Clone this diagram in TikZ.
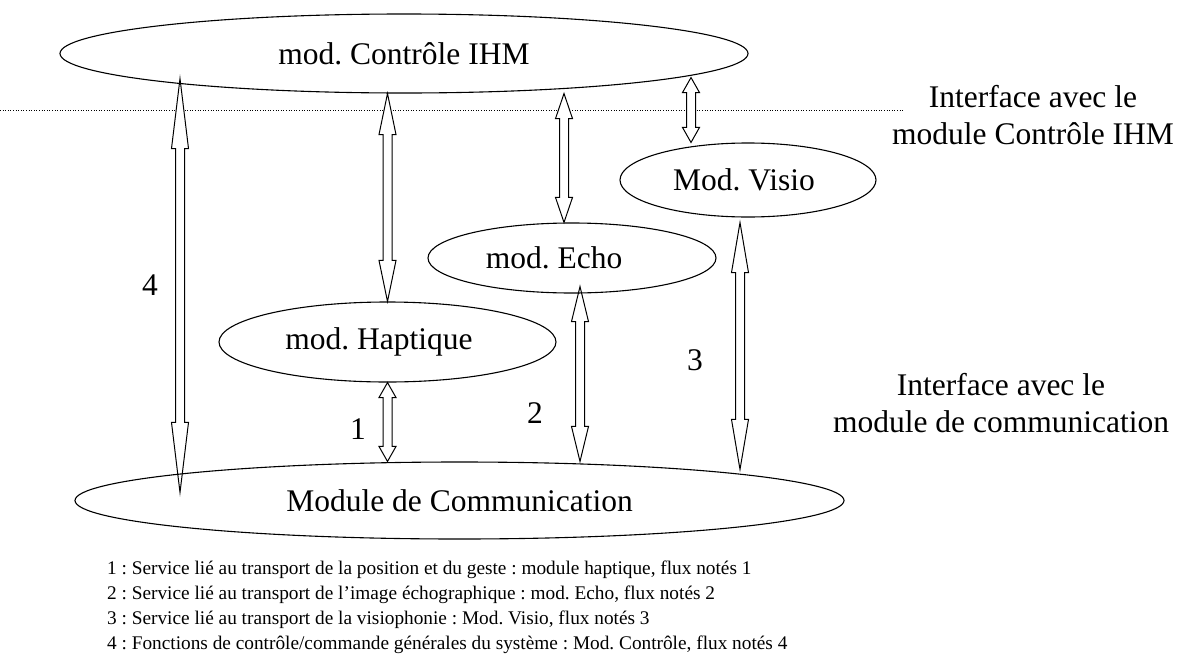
\documentclass[tikz,border=0pt]{standalone}
\usepackage{fontspec}
\setmainfont{Liberation Serif}
\frenchspacing
\usepackage{tikz}
\usetikzlibrary{shapes.geometric,calc,backgrounds}
\tikzset{
  ihmmod/.style={draw,ellipse,line width=1.1pt,inner sep=0pt,font=\fontsize{31.5}{37}\selectfont},
  ihmtxt/.style={align=center,inner sep=0pt,font=\fontsize{31.5}{37}\selectfont},
  ihmnote/.style={align=left,inner sep=0pt,font=\fontsize{19.3}{25}\selectfont},
  ihmsep/.style={line width=0.8pt,dash pattern=on 1pt off 1.6pt},
  ihmflow/.style={draw,fill=white,line width=1pt,line join=miter,
    to path={let \p1=(\tikztostart),\p2=(\tikztotarget) in
      -- (\x1+8.5pt,\y1-#1) -- (\x1+4.5pt,\y1-#1) -- (\x2+4.5pt,\y2+#1) -- (\x2+8.5pt,\y2+#1) -- (\x2,\y2)
      -- (\x2-8.5pt,\y2+#1) -- (\x2-4.5pt,\y2+#1) -- (\x1-4.5pt,\y1-#1) -- (\x1-8.5pt,\y1-#1) -- cycle}},
}
\begin{document}
\begin{tikzpicture}[x=1pt,y=1pt]
\useasboundingbox (0,0) rectangle (1184,-659);
% modules
\node[ihmmod,minimum width=688pt,minimum height=79pt] (ctrl) at (404,-53.5) {mod. Contrôle IHM};
\node[ihmmod,minimum width=256pt,minimum height=74pt] (visio) at (748,-180) {Mod. Visio\hspace*{8pt}};
\node[ihmmod,minimum width=288pt,minimum height=70pt] (echo) at (572,-258) {mod. Echo\hspace*{36pt}};
\node[ihmmod,minimum width=337pt,minimum height=80pt] (hapt) at (387.5,-342) {mod. Haptique\hspace*{17pt}};
\node[ihmmod,minimum width=769pt,minimum height=77pt] (comm) at (459.5,-500.5) {Module de Communication};
% interfaces
\node[ihmtxt] (ifctrl) at (1033,-115) {Interface avec le\\module Contrôle IHM};
\node[ihmtxt] (ifcomm) at (1001,-403) {Interface avec le\\module de communication};
% flow numbers
\node[ihmtxt] (n4) at (150,-285) {4};
\node[ihmtxt] (n1) at (358,-429) {1};
\node[ihmtxt] (n2) at (535,-413) {2};
\node[ihmtxt] (n3) at (695,-360) {3};
% legend
\node[ihmnote,anchor=north west] (legend) at (107,-561) {1 : Service lié au transport de la position et du geste : module haptique, flux notés 1\\
2 : Service lié au transport de l’image échographique : mod. Echo, flux notés 2\\
3 : Service lié au transport de la visiophonie : Mod. Visio, flux notés 3\\
4 : Fonctions de contrôle/commande générales du système : Mod. Contrôle, flux notés 4};
\begin{scope}[on background layer]
\draw[ihmsep] (0,-110) -- (904,-110);
\draw[ihmflow=70pt] ($(ctrl.south -| 180,0)+(0,15)$) to ($(comm.north -| 180,0)+(0,-31)$);
\draw[ihmflow=41pt] (ctrl.south -| hapt.north) to (hapt.north);
\draw[ihmflow=25pt] (ctrl.south -| 564,0) to (echo.north -| 564,0);
\draw[ihmflow=15pt] ($(ctrl.south -| 691,0)+(0,16)$) to (visio.north -| 691,0);
\draw[ihmflow=15pt] (hapt.south) to (comm.north -| hapt.south);
\draw[ihmflow=35pt] ($(echo.south -| 580,0)+(0,7)$) to (comm.north -| 580,0);
\draw[ihmflow=50pt] ($(visio.south -| 740,0)+(0,-5)$) to ($(comm.north -| 740,0)+(0,-8)$);
\end{scope}
\end{tikzpicture}
\end{document}
